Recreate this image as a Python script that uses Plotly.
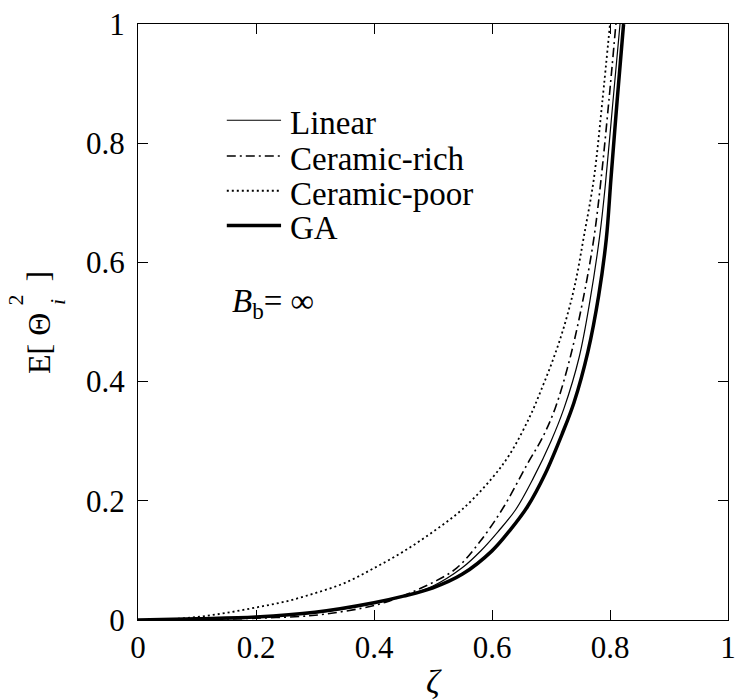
import plotly.graph_objects as go

# ---- data ----
linear_x = [0, 0.1, 0.2, 0.3, 0.4, 0.45, 0.5, 0.55, 0.58, 0.61, 0.64, 0.67, 0.70, 0.722, 0.7475, 0.7659, 0.7826, 0.7921, 0.805, 0.817]
linear_y = [0, 0.002, 0.005, 0.012, 0.028, 0.040, 0.057, 0.088, 0.115, 0.148, 0.185, 0.238, 0.300, 0.355, 0.44, 0.535, 0.645, 0.73, 0.87, 1.0]

rich_x = [0, 0.1, 0.2, 0.3, 0.38, 0.42, 0.46, 0.5, 0.54, 0.58, 0.62, 0.66, 0.685, 0.707, 0.7324, 0.7548, 0.7726, 0.7849, 0.798, 0.810]
rich_y = [0, 0.001, 0.003, 0.008, 0.020, 0.030, 0.045, 0.063, 0.087, 0.132, 0.19, 0.262, 0.305, 0.355, 0.44, 0.54, 0.64, 0.74, 0.87, 1.0]

poor_x = [0, 0.05, 0.1, 0.15, 0.2, 0.25, 0.3, 0.35, 0.4, 0.45, 0.5, 0.55, 0.6, 0.63, 0.664, 0.685, 0.7046, 0.722, 0.740, 0.756, 0.7726, 0.787, 0.800]
poor_y = [0, 0.001, 0.005, 0.012, 0.021, 0.031, 0.045, 0.062, 0.087, 0.115, 0.148, 0.186, 0.238, 0.278, 0.341, 0.39, 0.44, 0.492, 0.56, 0.645, 0.74, 0.87, 1.0]

ga_x = [0, 0.1, 0.2, 0.3, 0.4, 0.45, 0.5, 0.55, 0.6, 0.63, 0.66, 0.69, 0.72, 0.739, 0.7625, 0.7809, 0.7938, 0.8016, 0.812, 0.823]
ga_y = [0, 0.002, 0.005, 0.013, 0.029, 0.040, 0.054, 0.077, 0.116, 0.150, 0.19, 0.245, 0.315, 0.365, 0.45, 0.545, 0.64, 0.74, 0.87, 1.0]

series_names = ["Linear", "Ceramic-rich", "Ceramic-poor", "GA"]
tick_vals = [0, 0.2, 0.4, 0.6, 0.8, 1]
tick_text = ["0", "0.2", "0.4", "0.6", "0.8", "1"]

FONT = "Liberation Serif, Times New Roman, Times, serif"
styles = [
    dict(color="black", width=1.2, dash="solid"),
    dict(color="black", width=1.6, dash="9px,4px,2px,4px"),
    dict(color="black", width=1.8, dash="2px,3px"),
    dict(color="black", width=3.5, dash="solid"),
]

fig = go.Figure()
for name, xs, ys, st in zip(series_names,
                            [linear_x, rich_x, poor_x, ga_x],
                            [linear_y, rich_y, poor_y, ga_y], styles):
    fig.add_trace(go.Scatter(x=xs, y=ys, mode="lines", name=name,
                             line=dict(shape="spline", smoothing=1.0, **st),
                             showlegend=False))

axis_common = dict(range=[0, 1], tickvals=tick_vals, ticktext=tick_text,
                   ticks="inside", ticklen=10, tickwidth=1, tickcolor="black",
                   showline=True, linecolor="black", linewidth=1, mirror="ticks",
                   showgrid=False, zeroline=False, ticklabeloverflow="allow",
                   tickfont=dict(family=FONT, size=31, color="black"))

fig.update_xaxes(**axis_common,
                 title=dict(text="<i>ζ</i>", font=dict(family=FONT, size=34, color="black"), standoff=8))
fig.update_yaxes(**axis_common, ticklabelstandoff=6)

# manual legend (line samples + labels) in paper coordinates
W, H = 598.0, 600.5
L, T = 138.0, 24.0
def px2paper(px, py):
    return (px - L) / W, (T + H - py) / H

shapes = []
annotations = []
legend_rows = [121, 157, 192, 227]
for name, st, row in zip(series_names, styles, legend_rows):
    x0, y0 = px2paper(228, row)
    x1, _ = px2paper(283, row)
    shapes.append(dict(type="line", xref="paper", yref="paper", x0=x0, x1=x1, y0=y0, y1=y0,
                       line=dict(color=st["color"], width=st["width"], dash=st["dash"])))
    tx, ty = px2paper(290, row + 3)
    annotations.append(dict(text=name, xref="paper", yref="paper", x=tx, y=ty,
                            xanchor="left", yanchor="middle", showarrow=False,
                            font=dict(family=FONT, size=33, color="black")))

bx, by = px2paper(231, 306)
annotations.append(dict(text="<i>B</i><sub>b</sub>= ∞", xref="paper", yref="paper", x=bx, y=by,
                        xanchor="left", yanchor="middle", showarrow=False,
                        font=dict(family=FONT, size=33, color="black")))

# y-axis title built from pieces (stacked super/subscript)
def add_rot(text, px, py, size, italic=False):
    ax, ay = px2paper(px, py)
    annotations.append(dict(text=("<i>%s</i>" % text) if italic else text,
                            xref="paper", yref="paper", x=ax, y=ay,
                            xanchor="center", yanchor="middle", textangle=-90, showarrow=False,
                            font=dict(family=FONT, size=size, color="black")))

add_rot("E[ Θ", 37, 346, 32)
add_rot("2", 14, 302, 22)
add_rot("i", 57, 304, 22, italic=True)
add_rot("]", 37, 278, 32)

fig.update_layout(width=739, height=700, margin=dict(l=138, r=3, t=24, b=76),
                  plot_bgcolor="white", paper_bgcolor="white",
                  font=dict(family=FONT, color="black"),
                  shapes=shapes, annotations=annotations, showlegend=False)

fig.write_html("out.html")
